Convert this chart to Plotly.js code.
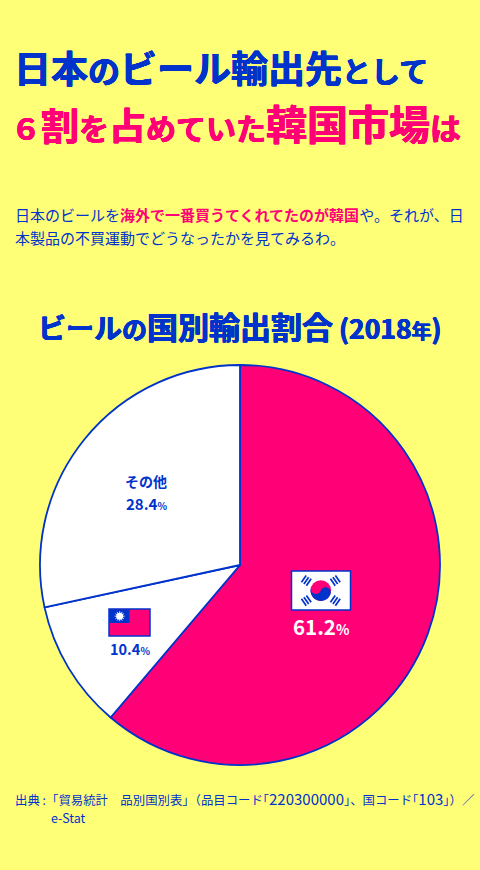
<!DOCTYPE html>
<html><head><meta charset="utf-8">
<script src="https://cdn.plot.ly/plotly-3.0.1.min.js"></script>
<style>html,body{margin:0;padding:0;background:#FFFF77;overflow:hidden}#c{width:480px;height:870px}</style>
</head><body><div id="c"></div>
<script>
const categories = ['韓国', '台湾', 'その他'];
const shares = [61.2, 10.4, 28.4];
const BLUE = '#0033CC', PINK = '#FF0077', BG = '#FFFF77', WHITE = '#FFFFFF';
const sliceColors = [PINK, WHITE, WHITE];
const FONT = '"Noto Sans CJK JP","Noto Sans",sans-serif';
const W = 480, H = 870;
const X = p => p / W, Y = p => 1 - p / H;

const s = (t, size, color, bold) => {
  const b = `<span style="font-size:${size}px;color:${color}">${t}</span>`;
  return bold ? `<b>${b}</b>` : b;
};
const titleLine1 = s('日本', 37, BLUE, 1) + s('の', 32, BLUE, 1) + s('ビール輸出先', 37, BLUE, 1) + s('として', 29, BLUE, 1);
const titleLine2 = s('６', 30, PINK, 1) + s('割', 38, PINK, 1) + s('を', 30, PINK, 1) + s('占', 37, PINK, 1) + s('めていた', 30, PINK, 1) + s('韓国市場', 41, PINK, 1) + s('は', 31, PINK, 1);
const bodyLine1 = s('日本のビールを', 15, BLUE, 0) + s('海外で一番買うてくれてたのが韓国', 15, PINK, 1) + s('や。それが、日', 15, BLUE, 0);
const bodyLine2 = s('本製品の不買運動でどうなったかを見てみるわ。', 15, BLUE, 0);
const chartTitle = s('ビール', 28, BLUE, 1) + s('の', 25, BLUE, 1) + s('国別輸出割合', 31, BLUE, 1) + s(' (2018', 26.5, BLUE, 1) + s('年', 20, BLUE, 1) + s(')', 26.5, BLUE, 1);
const S1 = 12.4, S2 = 15;
const src1 = s('出典 :「貿易統計　品別国別表｣（品目コード｢', S1, BLUE) + s('220300000', S2, BLUE) + s('｣、国コード｢', S1, BLUE) + s('103', 15, BLUE) + s('｣）／', S1, BLUE);
const src2 = s('e-Stat', 12.5, BLUE);

const heavy = c => `0.5px 0 0 ${c}, -0.5px 0 0 ${c}, 0 0.4px 0 ${c}, 0 -0.4px 0 ${c}`;
const note = (text, x, y, anchor, shadow) => ({
  text, x: X(x), y: Y(y), xref: 'paper', yref: 'paper',
  xanchor: anchor || 'left', yanchor: 'middle', showarrow: false, borderpad: 0, borderwidth: 0,
  font: {family: FONT, size: 14, color: BLUE, shadow: shadow || 'none'}
});

const pct = (v, size, smallSize, color) =>
  `<b><span style="font-size:${size}px;color:${color}">${v}</span><span style="font-size:${smallSize}px;color:${color}">%</span></b>`;

const annotations = [
  note(titleLine1, 14, 67, 'left', heavy(BLUE)),
  note(titleLine2, 11, 122, 'left', heavy(PINK)),
  note(bodyLine1, 15, 214),
  note(bodyLine2, 15, 237.5),
  note(chartTitle, 38, 325, 'left', heavy(BLUE)),
  note('<b>その他</b>', 146, 481, 'center'),
  note(pct(shares[2], 15, 10, BLUE), 146, 503, 'center'),
  note(pct(shares[1], 14.5, 10, BLUE), 130, 648, 'center'),
  note(pct(shares[0], 20.5, 14, WHITE), 321, 626, 'center'),
  note(src1, 15, 798),
  note(src2, 51, 817)
];

const rect = (x0, y0, x1, y1, fill, line, w) => ({type: 'rect', xref: 'paper', yref: 'paper',
  x0: X(x0), x1: X(x1), y0: Y(y0), y1: Y(y1), fillcolor: fill, line: {color: line || fill, width: w === undefined ? 0 : w}, layer: 'above'});
const circle = (cx, cy, r, fill, line, w) => ({type: 'circle', xref: 'paper', yref: 'paper',
  x0: X(cx - r), x1: X(cx + r), y0: Y(cy - r), y1: Y(cy + r), fillcolor: fill, line: {color: line || fill, width: w || 0}, layer: 'above'});
const seg = (x0, y0, x1, y1, color, w) => ({type: 'line', xref: 'paper', yref: 'paper',
  x0: X(x0), x1: X(x1), y0: Y(y0), y1: Y(y1), line: {color, width: w}, layer: 'above'});

const shapes = [];
const rad = d => d * Math.PI / 180;
/* Taiwan flag */
shapes.push(rect(109, 609, 150, 636, PINK, BLUE, 1.5));
shapes.push(rect(109.5, 609.5, 129.5, 623, BLUE));
const sx0 = 119.7, sy0 = 616.2;
for (let a = 0; a < 180; a += 30) {
  shapes.push(seg(sx0 + 5 * Math.cos(rad(a)), sy0 + 5 * Math.sin(rad(a)), sx0 - 5 * Math.cos(rad(a)), sy0 - 5 * Math.sin(rad(a)), WHITE, 0.8));
}
shapes.push(circle(sx0, sy0, 3.4, WHITE));
/* Korea flag */
const kx = 320.8, ky = 590.6, kr = 10.3, tilt = 20;
shapes.push(rect(291.5, 571, 350.5, 610, WHITE, BLUE, 1.5));
shapes.push(circle(kx, ky, kr, PINK));
shapes.push({type: 'path', xref: 'paper', yref: 'paper', layer: 'above', fillcolor: BLUE, line: {width: 0},
  path: (() => {
    const pts = [];
    for (let a = tilt; a <= tilt + 180; a += 10) pts.push([kx + kr * Math.cos(rad(a)), ky + kr * Math.sin(rad(a))]);
    const lx = kx + kr / 2 * Math.cos(rad(tilt + 180)), ly = ky + kr / 2 * Math.sin(rad(tilt + 180));
    for (let a = tilt + 180; a >= tilt; a -= 15) pts.push([lx + kr / 2 * Math.cos(rad(a)), ly + kr / 2 * Math.sin(rad(a))]);
    const rx = kx + kr / 2 * Math.cos(rad(tilt)), ry = ky + kr / 2 * Math.sin(rad(tilt));
    for (let a = tilt + 180; a <= tilt + 360; a += 15) pts.push([rx + kr / 2 * Math.cos(rad(a)), ry + kr / 2 * Math.sin(rad(a))]);
    return 'M' + pts.map(p => X(p[0]).toFixed(5) + ',' + Y(p[1]).toFixed(5)).join('L') + 'Z';
  })()});
/* trigrams */
[[-14.5, -10], [14.5, -10], [-14.5, 10], [14.5, 10]].forEach(([ox, oy]) => {
  const len = Math.hypot(ox, oy), ux = ox / len, uy = oy / len;
  [-3, 0, 3].forEach(o => {
    const cx = kx + ox + ux * o, cy = ky + oy + uy * o;
    const vx = -uy * 4.2, vy = ux * 4.2;
    shapes.push(seg(cx - vx, cy - vy, cx + vx, cy + vy, BLUE, 1.7));
  });
});

const data = [{
  type: 'pie', labels: categories, values: shares, sort: false, direction: 'clockwise', rotation: 0,
  marker: {colors: sliceColors, line: {color: BLUE, width: 1.8}},
  textinfo: 'none', hoverinfo: 'skip', showlegend: false,
  domain: {x: [X(40), X(440)], y: [Y(765), Y(365)]}
}];
const layout = {
  width: W, height: H, margin: {l: 0, r: 0, t: 0, b: 0},
  paper_bgcolor: BG, plot_bgcolor: BG, showlegend: false,
  font: {family: FONT, color: BLUE}, annotations, shapes
};
Plotly.newPlot('c', data, layout, {displayModeBar: false, staticPlot: true});
</script></body></html>
